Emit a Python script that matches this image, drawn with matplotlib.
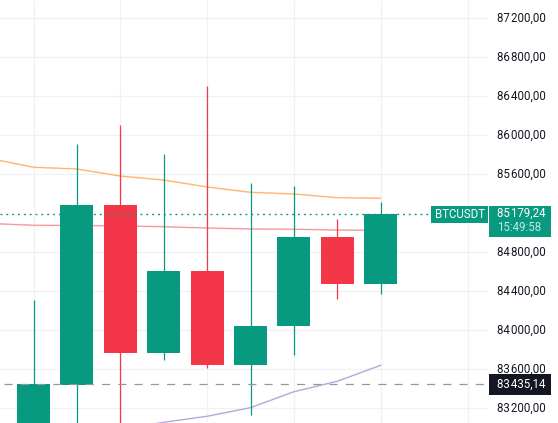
import matplotlib
matplotlib.use("Agg")
import matplotlib.pyplot as plt
from matplotlib.transforms import ScaledTranslation
from matplotlib.patches import Rectangle

GREEN = "#089981"
RED = "#f43748"

idx = [0, 1, 2, 3, 4, 5, 6, 7, 8]
opens = [83000, 83429, 85275, 83757, 84598, 83634, 84034, 84947, 84465]
closes = [83435.14, 85275, 83760, 84598, 83634, 84034, 84947, 84465, 85179.24]
highs = [84301, 85901, 86096, 85798, 86496, 85501, 85470, 85131, 85306]
lows = [82900, 82900, 82900, 83685, 83606, 83124, 83736, 84311, 84362]

ma_idx = [-1, 0, 1, 2, 3, 4, 5, 6, 7, 8]
ma_orange = [85751, 85662, 85644, 85572, 85531, 85460, 85405, 85388, 85350, 85344]
ma_pink = [85085, 85067, 85065, 85060, 85052, 85039, 85029, 85026, 85018, 85015]
pur_idx = [2, 3, 4, 5, 6, 7, 8]
ma_purple = [82977, 83046, 83108, 83196, 83360, 83467, 83631]

price_ticks = [87200, 86800, 86400, 86000, 85600, 84800, 84400, 84000, 83600, 83200]
price_labels = ["87\u200a200,00", "86\u200a800,00", "86\u200a400,00", "86\u200a000,00", "85\u200a600,00",
                "84\u200a800,00", "84\u200a400,00", "84\u200a000,00", "83\u200a600,00", "83\u200a200,00"]
vgrid_idx = [0, 2, 4, 6, 8, 10]
last_price = 85179.24
prev_close = 83435.14
symbol = "BTCUSDT"
last_label = "85\u200a179,24"
countdown = "15:49:58"
prev_label = "83\u200a435,14"

X0 = 33.5
DX = 43.4
FS = 8.3

plt.rcParams["font.family"] = ["Roboto", "DejaVu Sans"]
fig = plt.figure(figsize=(5.58, 4.23), dpi=100, facecolor="white")
ax = fig.add_axes([0, 0, 488 / 558, 1])
ax.set_xlim(-X0 / DX, (488 - X0) / DX)
ax.set_ylim(83039, 87377.4)
for s in ax.spines.values():
    s.set_visible(False)

down1 = ax.transData + ScaledTranslation(0, -1 / 100, fig.dpi_scale_trans)
for p in price_ticks:
    ax.plot([-2, 12], [p, p], color="#f1f1f3", lw=0.9, transform=down1, zorder=1)
ax.vlines(vgrid_idx, 83039, 87377.4, color="#f1f1f3", lw=0.9, zorder=1)

ax.set_xticks([])
ax.set_yticks(price_ticks, price_labels)
ax.yaxis.tick_right()
ax.tick_params(axis="y", length=0, pad=6.5, labelsize=FS, labelcolor="#131722")
for t in ax.get_yticklabels():
    t.set_transform(t.get_transform() + ScaledTranslation(0, 1 / 100, fig.dpi_scale_trans))

ax.plot(ma_idx, ma_orange, color="#ffe0bf", lw=1.3, zorder=2)
ax.plot(ma_idx, ma_orange, color="#ffb06a", lw=0.7, zorder=2)
ax.plot(ma_idx, ma_pink, color="#fcd6d9", lw=1.3, zorder=2)
ax.plot(ma_idx, ma_pink, color="#f5909a", lw=0.7, zorder=2)
ax.plot(pur_idx, ma_purple, color="#e4dcf3", lw=1.3, zorder=2)
ax.plot(pur_idx, ma_purple, color="#b39ddb", lw=0.7, zorder=2)

for i, o, c, h, l in zip(idx, opens, closes, highs, lows):
    col = GREEN if c >= o else RED
    ax.vlines(i, l, h, color=col, lw=0.9, zorder=3)
    ax.bar(i, abs(c - o), bottom=min(o, c), width=33 / DX, color=col, linewidth=0, zorder=3)

ax.plot([-0.68, 10.5], [prev_close, prev_close], color="#9598a1", lw=0.9,
        linestyle=(0, (6.5, 6.5)), zorder=4)
ax.plot([-0.78, (431 - X0) / DX], [last_price, last_price], color=GREEN, lw=1.0,
        linestyle=(0, (1.4, 2.8)), zorder=4)


def box(x0, y0, x1, y1, color):
    fig.add_artist(Rectangle((x0 / 558, 1 - y1 / 423), (x1 - x0) / 558, (y1 - y0) / 423,
                             transform=fig.transFigure, facecolor=color, edgecolor="none", zorder=5))


def label(x, y, text, color):
    fig.text(x / 558, 1 - y / 423, text, color=color, fontsize=FS, ha="left", va="center", zorder=6)


box(431, 206, 488, 223, GREEN)
box(489, 206, 551, 237, GREEN)
box(489, 374, 551, 395, "#131722")
label(435, 214, symbol, "white")
label(497, 213.5, last_label, "white")
label(497, 227.5, countdown, "#c3e8df")
label(497, 384, prev_label, "white")

fig.savefig("out.png", dpi=100, facecolor="white")
